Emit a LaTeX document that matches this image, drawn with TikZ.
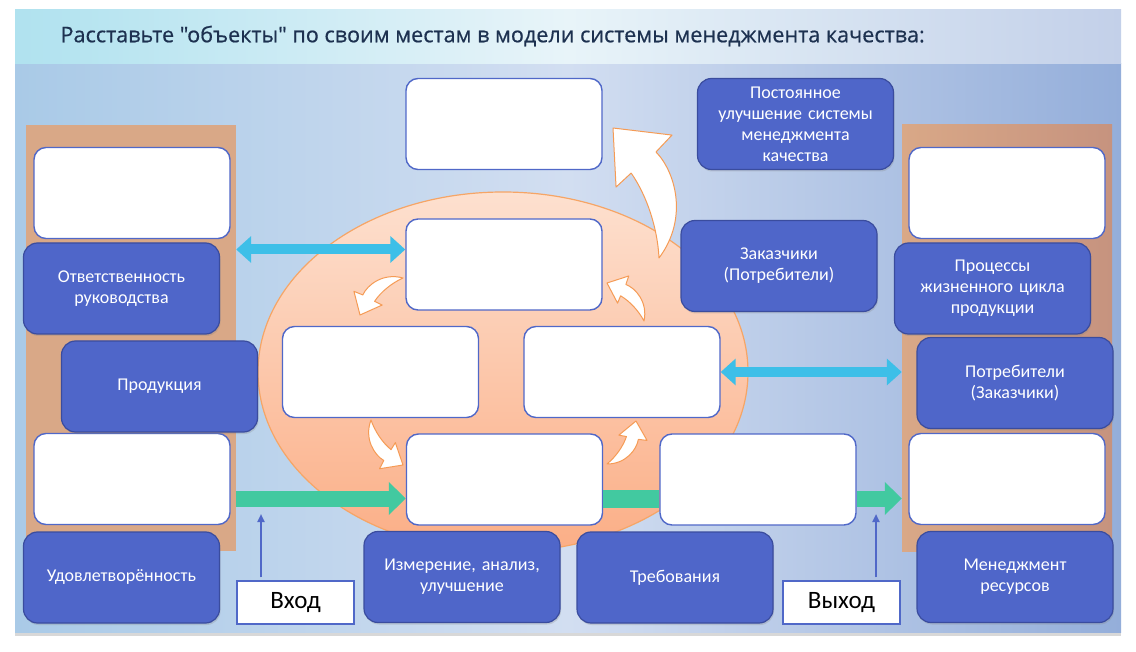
\documentclass[tikz,border=0pt]{standalone}
\usepackage{fontspec}
\setmainfont{Open Sans}[Ligatures=TeXOff]
\newfontfamily\titlefont{Open Sans}[Ligatures=TeXOff, FakeBold=0.6]
\newfontfamily\boxfont{Carlito}
\usetikzlibrary{arrows.meta,shadows}
\definecolor{itemblue}{HTML}{4F66C9}
\definecolor{itemedge}{HTML}{3A4C9E}
\definecolor{slotedge}{HTML}{5068C8}
\definecolor{colbrown}{HTML}{D9A887}
\definecolor{colbrowndark}{HTML}{C6937F}
\definecolor{flowgreen}{HTML}{42C9A0}
\definecolor{linkcyan}{HTML}{3DBFE8}
\definecolor{cycorange}{HTML}{F59B55}
\definecolor{titleink}{HTML}{1D3150}

\begin{document}
\begin{tikzpicture}[x=1pt, y=-1pt,
	slot/.style = {draw=slotedge, line width=1.4pt, fill=white, rounded corners=12pt, minimum width=196pt, minimum height=91pt},
	item/.style = {draw=itemedge, line width=1.2pt, fill=itemblue, rounded corners=14pt, minimum width=196pt, minimum height=91pt, inner sep=4pt, text width=186pt, align=center, text=white, font=\boxfont\fontsize{18}{21}\selectfont, drop shadow={opacity=0.25, shadow xshift=1pt, shadow yshift=-2pt}},
	col/.style = {draw=none, inner sep=0pt, minimum width=210pt, minimum height=426pt},
	gate/.style = {draw=slotedge, line width=1.3pt, fill=white, inner sep=0pt, minimum width=117pt, minimum height=43pt, font=\boxfont\fontsize{25}{28}\selectfont},
	link/.style = {draw=linkcyan, line width=10pt, {Triangle[length=15pt,width=26pt]}-{Triangle[length=15pt,width=26pt]}},
	flow/.style = {draw=flowgreen, line width=16pt, -{Triangle[length=17pt,width=32pt]}},
	flowbar/.style = {draw=flowgreen, line width=18pt},
	rise/.style = {draw=slotedge, line width=2pt, shorten <=3pt, -{Triangle[length=8pt,width=7pt]}},
	cyc/.pic = {\draw[draw=cycorange, line width=1pt, fill=white, line join=round] (0,0) .. controls (0.3,0.2) and (0.32,0.55) .. (0.236,0.732) -- (0.386,0.809) -- (0,1) -- (-0.122,0.589) -- (0.015,0.648) .. controls (0.07,0.45) and (0.06,0.2) .. (0,0) -- cycle;}]

	\useasboundingbox (0,0) rectangle (1136,652);
	\fill[white] (0,0) rectangle (1136,652);
	\fill[white, drop shadow={opacity=0.3, shadow xshift=0pt, shadow yshift=-4pt}] (15,10) rectangle (1121,632);
	\shade[left color={rgb,255:red,169;green,202;blue,231}, right color={rgb,255:red,148;green,174;blue,218}, middle color={rgb,255:red,210;green,222;blue,241}] (15,64) rectangle (1121,632);
	\shade[left color={rgb,255:red,176;green,226;blue,239}, right color={rgb,255:red,195;green,208;blue,233}, middle color={rgb,255:red,232;green,244;blue,249}] (15,10) rectangle (1121,64);
	\node[anchor=west, text=titleink, font=\titlefont\fontsize{21.6}{26}\selectfont] (title) at (57,36) {Расставьте "объекты" по своим местам в модели системы менеджмента качества:};

	\node[col, fill=colbrown] (lcol) at (131,338) {};
	\node[col, left color=colbrown, right color=colbrowndark] (rcol) at (1007,338) {};
	\draw[draw=cycorange!90, line width=1.2pt, top color={rgb,255:red,253;green,224;blue,207}, bottom color={rgb,255:red,251;green,174;blue,134}] (503,372) ellipse [x radius=245, y radius=180];

	\node[slot] (wtop) at (504,124) {};
	\node[slot] (wctr) at (504,264.5) {};
	\node[slot] (wmidl) at (380.5,372) {};
	\node[slot] (wmidr) at (622,372) {};
	\node[slot] (wbot) at (504.5,479.5) {};
	\node[slot] (wreq) at (758,479.5) {};
	\node[slot] (wl1) at (132,193) {};
	\node[slot] (wl2) at (132,479) {};
	\node[slot] (wr1) at (1007,193) {};
	\node[slot] (wr2) at (1007,479) {};

	\coordinate (lin) at ([yshift=15pt]wctr.west);
	\coordinate (gin) at ([yshift=-19pt]wbot.west);
	\draw[link] (lcol.east |- lin) -- (lin);
	\draw[link] (wmidr.east) -- (rcol.west |- wmidr.east);
	\draw[flow] (lcol.east |- gin) -- (gin);
	\draw[flowbar] (wbot.east |- gin) -- (wreq.west |- gin);
	\draw[flow] (wreq.east |- gin) -- (rcol.west |- gin);

	\path[shift={(659,258)}, x={(130pt,46pt)}, y={(-46pt,130pt)}] (0,0) pic {cyc};
	\path[shift={(403,278)}, x={(-37pt,43pt)}, y={(-43pt,-37pt)}] (0,0) pic {cyc};
	\path[shift={(371,420)}, x={(-45pt,-32pt)}, y={(32pt,-45pt)}] (0,0) pic {cyc};
	\path[shift={(607,464)}, x={(43pt,-29pt)}, y={(29pt,43pt)}] (0,0) pic {cyc};
	\path[shift={(644,321)}, x={(38pt,37pt)}, y={(-37pt,38pt)}] (0,0) pic {cyc};

	\node[item] (resp) at (121.5,288.5) {Ответственность\\руководства};
	\node[item] (prod) at (159.5,386.5) {Продукция};
	\node[item] (sat) at (121.5,577.5) {Удовлетворённость};
	\node[item] (meas) at (462,577) {Измерение, анализ,\\улучшение};
	\node[item] (req) at (675,577.5) {Требования};
	\node[item] (res) at (1015,577) {Менеджмент\\ресурсов};
	\node[item] (cust) at (1015,383) {Потребители\\(Заказчики)};
	\node[item] (life) at (992.5,288.5) {Процессы\\жизненного цикла\\продукции};
	\node[item] (client) at (779,266) {Заказчики\\(Потребители)};
	\node[item] (impr) at (795.5,124) {Постоянное\\улучшение системы\\менеджмента\\качества};

	\node[gate] (vhod) at (295.5,602.5) {Вход};
	\node[gate] (vyhod) at (841.5,602.5) {Выход};
	\coordinate (vin) at (261,514);
	\coordinate (vout) at (876,514);
	\draw[rise] (vhod.north -| vin) -- (vin);
	\draw[rise] (vyhod.north -| vout) -- (vout);
\end{tikzpicture}
\end{document}
